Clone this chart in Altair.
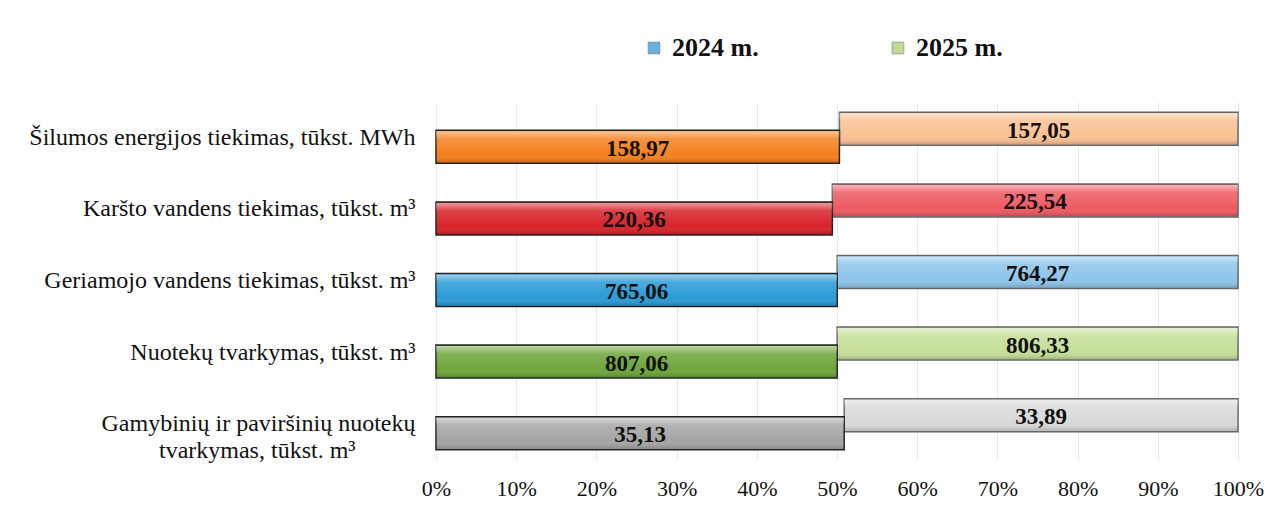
import altair as alt
import pandas as pd

categories = [
    "Šilumos energijos tiekimas, tūkst. MWh",
    "Karšto vandens tiekimas, tūkst. m³",
    "Geriamojo vandens tiekimas, tūkst. m³",
    "Nuotekų tvarkymas, tūkst. m³",
    "Gamybinių ir paviršinių nuotekų|tvarkymas, tūkst. m³" + "\u2002" * 5 + "\u200b",
]
values_2024 = [158.97, 220.36, 765.06, 807.06, 35.13]
values_2025 = [157.05, 225.54, 764.27, 806.33, 33.89]
colors_2024 = ["#F5801E", "#D8232A", "#2A9AD6", "#6DA53A", "#A5A5A5"]
colors_2025 = ["#FAC193", "#EF5A62", "#8EC4EA", "#C5DF98", "#D9D9D9"]
years = ["2024 m.", "2025 m."]
legend_colors = ["#2A8FD0", "#A6CC6A"]

rows = []
for c, a, b, ca, cb in zip(categories, values_2024, values_2025, colors_2024, colors_2025):
    tot = a + b
    rows.append(dict(cat=c, year=years[0], start=0.0, end=a / tot, mid=a / tot / 2,
                     label=f"{a:.2f}".replace(".", ","), fill=ca))
    rows.append(dict(cat=c, year=years[1], start=a / tot, end=1.0, mid=(a / tot + 1) / 2,
                     label=f"{b:.2f}".replace(".", ","), fill=cb))
df = pd.DataFrame(rows)

FONT = "Liberation Serif"
base = alt.Chart(df)
yenc = alt.Y("cat:N", sort=categories, scale=alt.Scale(paddingInner=0, paddingOuter=0),
             axis=alt.Axis(title=None, labelFont=FONT, labelFontSize=24, labelColor="#111",
                           labelExpr="split(datum.label, '|')", labelLimit=500,
                           domain=False, ticks=False, labelPadding=21,
                           labelLineHeight=27, grid=False))
xenc = alt.X("start:Q", scale=alt.Scale(domain=[0, 1], nice=False),
             axis=alt.Axis(format="%", values=[i / 10 for i in range(11)], title=None,
                           labelFont=FONT, labelFontSize=22, labelColor="#111",
                           labelFlush=False,
                           grid=True, gridColor="#e8e8e8", gridWidth=1,
                           domain=False, ticks=False, labelPadding=18))

sheen = {
    "x1": 0, "y1": 0, "x2": 0, "y2": 1, "gradient": "linear",
    "stops": [
        {"offset": 0.0, "color": "rgba(255,255,255,0.55)"},
        {"offset": 0.25, "color": "rgba(255,255,255,0.15)"},
        {"offset": 0.75, "color": "rgba(255,255,255,0.0)"},
        {"offset": 1.0, "color": "rgba(0,0,0,0.18)"},
    ],
}

layers = []
for yr, off, stroke in [(years[1], -9, "#666666"), (years[0], 9, "#222222")]:
    b = base.transform_filter(alt.datum.year == yr)
    bar = b.mark_bar(yOffset=off, size=33, stroke=stroke, strokeWidth=1.5).encode(
        x=xenc, x2="end:Q", y=yenc,
        fill=alt.Fill("fill:N", scale=None),
    )
    gloss = b.mark_bar(yOffset=off, size=31, fill=sheen).encode(
        x="start:Q", x2="end:Q", y=alt.Y("cat:N", sort=categories))
    txt = b.mark_text(yOffset=off + 2, font=FONT, fontSize=23, fontWeight="bold",
                      color="#111").encode(x="mid:Q", y=alt.Y("cat:N", sort=categories),
                                           text="label:N")
    layers += [bar, gloss, txt]

legend_layer = base.transform_filter("false").mark_square(size=140).encode(
    x="mid:Q", y=alt.Y("cat:N", sort=categories),
    color=alt.Color("year:N", scale=alt.Scale(domain=years, range=legend_colors),
                    legend=alt.Legend(title=None, orient="none", legendX=205, legendY=-67,
                                      direction="horizontal", symbolType="square",
                                      symbolSize=140, symbolStrokeColor="#333",
                                      symbolStrokeWidth=0.5, labelFont=FONT,
                                      labelFontSize=26, labelFontWeight="bold",
                                      labelColor="#111", columnPadding=126,
                                      labelOffset=5)),
)
layers.append(legend_layer)

chart = alt.layer(*layers).properties(
    width=802, height=358,
    padding={"left": 428, "top": 94, "right": 30, "bottom": 40},
    autosize=alt.AutoSizeParams(type="none"),
    background="white",
).configure_view(stroke=None)

chart.save("out.html", embed_options={"renderer": "svg", "actions": False})
